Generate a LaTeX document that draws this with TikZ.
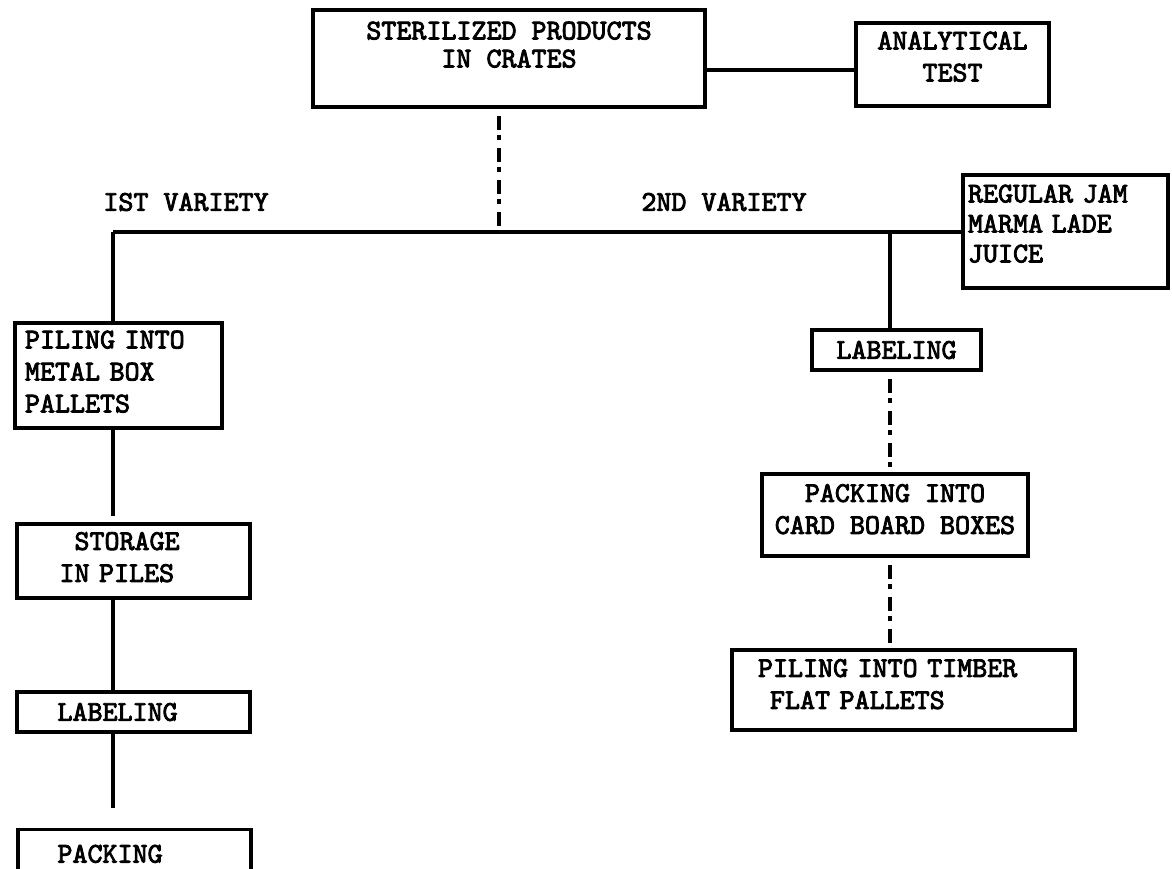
\documentclass[tikz,border=0pt]{standalone}
\usepackage{fontspec}
\newfontfamily\tw{lmmono10-regular.otf}[FakeBold=3]
\begin{document}
\begin{tikzpicture}[x=0.5pt,y=-0.5pt,
  every node/.style={font=\tw\fontsize{14.3}{16}\selectfont, inner sep=0pt},
  box/.style={draw, line width=1.6pt, rectangle},
  conn/.style={line width=2pt},
  excl/.style={line width=2.2pt, dash pattern=on 0pt off 3.5pt on 7pt off 2.5pt on 2.5pt off 0.5pt}]
\clip (0,0) rectangle (1172,868);
\fill[white] (0,0) rectangle (1172,868);

% boxes
\node[box, minimum width=196pt, minimum height=48.5pt, align=center,
  font=\tw\fontsize{14.3}{14}\selectfont] (top) at (509,58.5)
  {STERILIZED PRODUCTS\\IN CRATES\\[0pt]\mbox{}};
\node[box, minimum width=96.5pt, minimum height=41.5pt, align=center] (ana) at (952.5,64.5)
  {ANALYTICAL\\TEST\\[-8pt]\mbox{}};
\node[box, minimum width=102.5pt, minimum height=56.5pt, text width=97.5pt, inner xsep=2.5pt, align=left,
  font=\tw\fontsize{14.3}{15}\selectfont] (reg) at (1065.5,231.5)
  {REGULAR JAM\\MARMA\hspace{0.3em}LADE\\JUICE\\[-7pt]\mbox{}};
\node[box, minimum width=103.5pt, minimum height=52.5pt, text width=93.5pt, inner xsep=5pt, align=left] (pil) at (118.5,375.5)
  {PILING INTO\\METAL BOX\\PALLETS\\[-12pt]\mbox{}};
\node[box, minimum width=116.5pt, minimum height=37pt, text width=74pt, inner xsep=21.25pt, align=left] (sto) at (133.5,561)
  {\hspace*{7.5pt}STORAGE\\IN PILES\\[-12pt]\mbox{}};
\node[box, minimum width=116.5pt, minimum height=20pt, text width=76pt, inner xsep=20.25pt, align=left] (lab1) at (133.5,712)
  {LABELING};
\node[box, minimum width=116.5pt, minimum height=26pt, text width=77pt, inner xsep=19.75pt, align=left, anchor=north] (pack) at (134.5,828)
  {\rule{0pt}{13pt}PACKING\rule[-6pt]{0pt}{6pt}};
\node[box, minimum width=84.5pt, minimum height=20pt, align=center] (lab2) at (896.5,350)
  {LABELING};
\node[box, minimum width=133pt, minimum height=41pt, align=center] (card) at (895,515)
  {PACKING INTO\\CARD BOARD BOXES\\[-10pt]\mbox{}};
\node[box, minimum width=171.5pt, minimum height=40pt, text width=145.5pt, inner xsep=13pt, align=left] (tim) at (903.5,690)
  {PILING INTO TIMBER\\\hspace*{6pt}FLAT PALLETS\\[-10pt]\mbox{}};

% labels
\node (v1) at (186,202) {IST VARIETY};
\node (v2) at (724,202) {2ND VARIETY};

% junctions
\coordinate (jl) at (113,231.5);
\coordinate (jt) at (499,231.5);
\coordinate (jr) at (890,231.5);
\coordinate (ja) at (780,70);

% connectors
\draw[conn] (top.east |- ja) -- (ana.west |- ja);
\draw[excl] (top.south -| jt) -- (jt);
\draw[conn] (jl) -- (reg.west);
\draw[conn] (jl) -- (jl |- pil.north);
\draw[conn, shorten >=3pt] (pil.south -| jl) -- (sto.north -| jl);
\draw[conn] (sto.south -| jl) -- (lab1.north -| jl);
\draw[conn, shorten >=10pt] (lab1.south -| jl) -- (pack.north -| jl);
\draw[conn] (jr) -- (jr |- lab2.north);
\draw[excl] (jr |- lab2.south) -- (jr |- card.north);
\draw[excl] (jr |- card.south) -- (jr |- tim.north);
\end{tikzpicture}
\end{document}
